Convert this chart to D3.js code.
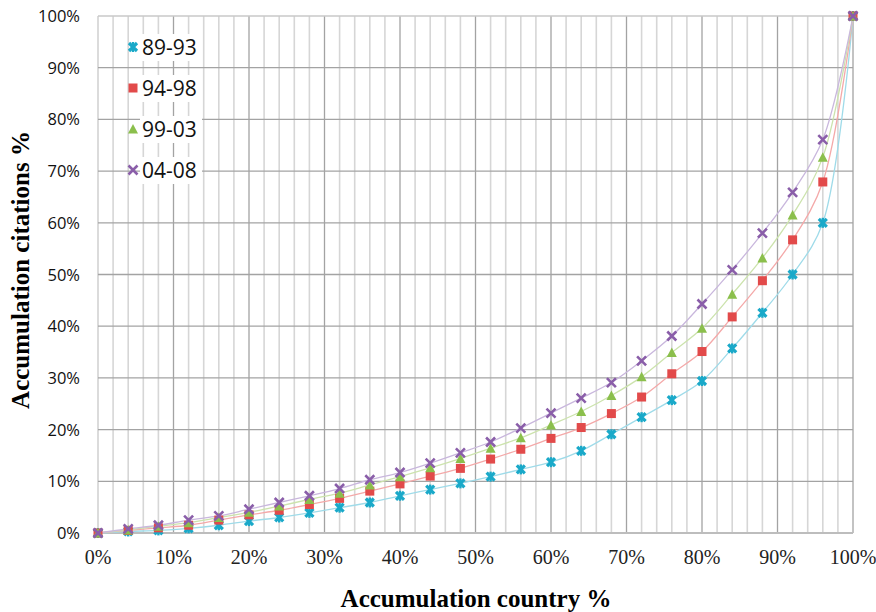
<!DOCTYPE html>
<html>
<head>
<meta charset="utf-8">
<script src="https://cdn.jsdelivr.net/npm/d3@7"></script>
<style>
  body { margin: 0; background: #fff; }
  svg { display: block; }
</style>
</head>
<body>
<div id="chart"></div>
<script>
// x positions (accumulation country %)
var countryPct = [0, 4, 8, 12, 16, 20, 24, 28, 32, 36, 40, 44, 48, 52, 56, 60, 64, 68, 72, 76, 80, 84, 88, 92, 96, 100];

// accumulation citations % for each period
var p8993 = [0, 0.3, 0.5, 0.9, 1.5, 2.3, 3.0, 3.9, 4.9, 5.9, 7.2, 8.4, 9.6, 10.9, 12.3, 13.7, 15.9, 19.1, 22.4, 25.7, 29.4, 35.7, 42.6, 50.0, 60.0, 100];
var p9498 = [0, 0.5, 1.0, 1.5, 2.5, 3.5, 4.4, 5.5, 6.7, 8.1, 9.5, 11.0, 12.5, 14.3, 16.2, 18.3, 20.4, 23.1, 26.3, 30.8, 35.1, 41.8, 48.8, 56.7, 67.9, 100];
var p9903 = [0, 0.6, 1.3, 2.0, 3.0, 4.0, 5.2, 6.5, 7.7, 9.3, 10.9, 12.6, 14.4, 16.4, 18.4, 20.9, 23.5, 26.6, 30.2, 34.9, 39.6, 46.2, 53.2, 61.5, 72.7, 100];
var p0408 = [0, 0.8, 1.5, 2.5, 3.3, 4.6, 5.9, 7.2, 8.6, 10.3, 11.7, 13.5, 15.5, 17.6, 20.3, 23.2, 26.1, 29.1, 33.3, 38.1, 44.3, 50.9, 58.0, 65.9, 76.1, 100];

var seriesNames = ['89-93', '94-98', '99-03', '04-08'];
var seriesValues = [p8993, p9498, p9903, p0408];
var xTicks = [0, 10, 20, 30, 40, 50, 60, 70, 80, 90, 100];
var yTicks = [0, 10, 20, 30, 40, 50, 60, 70, 80, 90, 100];

var markColor = ['#1aa9c9', '#e24a4a', '#8bbf4c', '#8a5ea9'];
var lineColor = ['#9fdbe9', '#f4a9a9', '#cce3ad', '#c9b7dd'];
var markShape = ['star', 'square', 'triangle', 'x'];

var W = 876, H = 612;
var plotLeft = 98, plotRight = 853, plotTop = 16, plotBottom = 533;

var svg = d3.select('#chart').append('svg')
  .attr('width', W)
  .attr('height', H);

var x = d3.scaleLinear().domain([0, 100]).range([plotLeft, plotRight]);
var y = d3.scaleLinear().domain([0, 100]).range([plotBottom, plotTop]);

// minor vertical grid every 2%
var g = svg.append('g');
g.selectAll('.minor')
  .data(d3.range(2, 100, 2).filter(function(d) { return d % 10 != 0; }))
  .enter().append('line')
  .attr('x1', function(d) { return x(d); })
  .attr('x2', function(d) { return x(d); })
  .attr('y1', plotTop).attr('y2', plotBottom)
  .attr('stroke', '#d6d6d6')
  .attr('stroke-width', 1.6);

// major grid every 10%
g.selectAll('.vmajor')
  .data(xTicks)
  .enter().append('line')
  .attr('x1', function(d) { return x(d); })
  .attr('x2', function(d) { return x(d); })
  .attr('y1', plotTop).attr('y2', plotBottom)
  .attr('stroke', function(d) { return d == 0 ? '#c8c8c8' : '#a3a3a3'; })
  .attr('stroke-width', 1.3);

g.selectAll('.hmajor')
  .data(yTicks.filter(function(d) { return d > 0; }))
  .enter().append('line')
  .attr('x1', plotLeft).attr('x2', plotRight)
  .attr('y1', function(d) { return y(d); })
  .attr('y2', function(d) { return y(d); })
  .attr('stroke', function(d) { return d == 100 ? '#c8c8c8' : '#a3a3a3'; })
  .attr('stroke-width', 1.3);

// bottom axis line
g.append('line')
  .attr('x1', plotLeft).attr('x2', plotRight)
  .attr('y1', plotBottom).attr('y2', plotBottom)
  .attr('stroke', '#bdbdbd')
  .attr('stroke-width', 2.2);

// tick labels
svg.append('g').selectAll('text')
  .data(yTicks)
  .enter().append('text')
  .attr('x', 80)
  .attr('y', function(d) { return y(d) + 6; })
  .attr('text-anchor', 'end')
  .attr('font-family', 'Open Sans, Noto Sans, sans-serif')
  .attr('font-size', 16.5)
  .attr('fill', '#111')
  .text(function(d) { return d + '%'; });

svg.append('g').selectAll('text')
  .data(xTicks)
  .enter().append('text')
  .attr('x', function(d) { return x(d); })
  .attr('y', 564)
  .attr('text-anchor', 'middle')
  .attr('font-family', 'Liberation Serif, serif')
  .attr('font-size', 20)
  .attr('fill', '#222')
  .text(function(d) { return d + '%'; });

// axis titles
svg.append('text')
  .attr('x', 476)
  .attr('y', 607)
  .attr('text-anchor', 'middle')
  .attr('font-family', 'Liberation Serif, serif')
  .attr('font-weight', 'bold')
  .attr('font-size', 25)
  .text('Accumulation country %');

svg.append('text')
  .attr('transform', 'translate(29,' + 270 + ')rotate(-90)')
  .attr('text-anchor', 'middle')
  .attr('font-family', 'Liberation Serif, serif')
  .attr('font-weight', 'bold')
  .attr('font-size', 25)
  .text('Accumulation citations %');

function drawMarker(sel, shape, color) {
  if (shape == 'square') {
    sel.append('rect').attr('x', -4.5).attr('y', -4.5).attr('width', 9).attr('height', 9).attr('fill', color);
  } else if (shape == 'triangle') {
    sel.append('path').attr('d', 'M0,-5L5,4.5L-5,4.5Z').attr('fill', color);
  } else if (shape == 'x') {
    sel.append('path').attr('d', 'M-4.5,-4.5L4.5,4.5M-4.5,4.5L4.5,-4.5')
      .attr('stroke', color).attr('stroke-width', 2.6).attr('fill', 'none');
  } else {
    // star: x with a vertical bar
    sel.append('path').attr('d', 'M-4,-4L4,4M-4,4L4,-4')
      .attr('stroke', color).attr('stroke-width', 3.2).attr('fill', 'none');
    sel.append('path').attr('d', 'M0,-5L0,5')
      .attr('stroke', color).attr('stroke-width', 2.4).attr('fill', 'none');
  }
}

var line = d3.line()
  .x(function(d, i) { return x(countryPct[i]); })
  .y(function(d) { return y(d); })
  .curve(d3.curveCatmullRom.alpha(0.5));

seriesValues.forEach(function(vals, s) {
  svg.append('path')
    .datum(vals)
    .attr('d', line)
    .attr('fill', 'none')
    .attr('stroke', lineColor[s])
    .attr('stroke-width', 1.3);
});

seriesValues.forEach(function(vals, s) {
  var pts = svg.append('g').selectAll('g')
    .data(vals)
    .enter().append('g')
    .attr('transform', function(d, i) { return 'translate(' + x(countryPct[i]) + ',' + y(d) + ')'; });
  drawMarker(pts, markShape[s], markColor[s]);
});

// legend
var legend = svg.append('g').attr('transform', 'translate(133,47)');
var key = legend.selectAll('g')
  .data(seriesNames)
  .enter().append('g')
  .attr('transform', function(d, i) { return 'translate(0,' + (i * 41) + ')'; });

key.append('rect')
  .attr('x', 7).attr('y', -13)
  .attr('width', 62).attr('height', 27)
  .attr('fill', '#fff');

key.each(function(d, i) {
  drawMarker(d3.select(this), markShape[i], markColor[i]);
});

key.append('text')
  .attr('x', 9)
  .attr('y', 8)
  .attr('font-family', 'Open Sans, Noto Sans, sans-serif')
  .attr('font-size', 21)
  .attr('fill', '#111')
  .text(function(d) { return d; });
</script>
</body>
</html>
